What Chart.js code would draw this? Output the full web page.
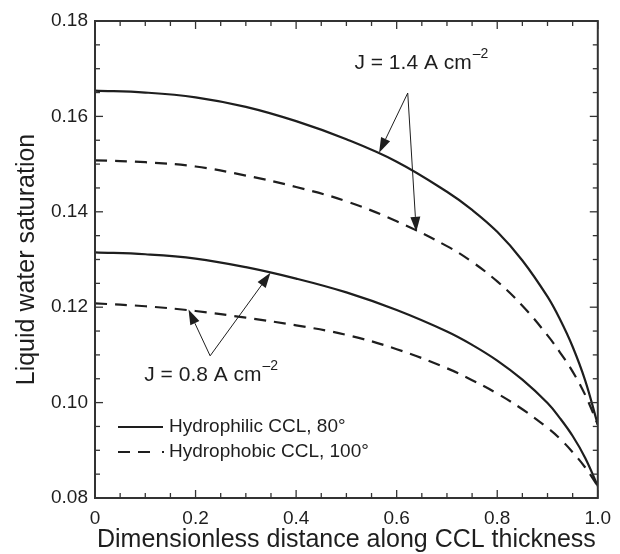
<!DOCTYPE html>
<html>
<head>
<meta charset="utf-8">
<script src="https://cdn.jsdelivr.net/npm/chart.js@4.4.0/dist/chart.umd.min.js"></script>
<style>
  body { margin: 0; background: #fff; }
  #wrap { width: 620px; height: 554px; }
</style>
</head>
<body>
<div id="wrap"><canvas id="myChart" width="620" height="554"></canvas></div>
<script>
// dimensionless position along the CCL
const xPos = [0, 0.1, 0.2, 0.3, 0.4, 0.5, 0.6, 0.7, 0.75, 0.8, 0.85, 0.9, 0.925, 0.95, 0.975, 1.0];

// liquid water saturation, J = 1.4 A cm-2
const philic14 = [0.1654, 0.1650, 0.1640, 0.1620, 0.1590, 0.1552, 0.1505, 0.1442, 0.1404, 0.1358, 0.1298, 0.1222, 0.1174, 0.1117, 0.1046, 0.0954];
const phobic14 = [0.1508, 0.1504, 0.1495, 0.1476, 0.1452, 0.1422, 0.1380, 0.1328, 0.1295, 0.1254, 0.1203, 0.1141, 0.1105, 0.1065, 0.1016, 0.0954];
// liquid water saturation, J = 0.8 A cm-2
const philic08 = [0.1315, 0.1311, 0.1302, 0.1284, 0.1260, 0.1231, 0.1194, 0.1149, 0.1121, 0.1088, 0.1048, 0.0999, 0.0967, 0.0930, 0.0884, 0.0825];
const phobic08 = [0.1208, 0.1202, 0.1192, 0.1178, 0.1162, 0.1142, 0.1112, 0.1072, 0.1047, 0.1019, 0.0986, 0.0947, 0.0924, 0.0896, 0.0864, 0.0825];

const xTickLabels = ["0", "0.2", "0.4", "0.6", "0.8", "1.0"];
const yTickLabels = ["0.08", "0.10", "0.12", "0.14", "0.16", "0.18"];
const seriesNames = ["Hydrophilic CCL, 80°", "Hydrophobic CCL, 100°"];

// current density callouts (data units)
const notes = [
  { text: "J = 1.4 A cm", sup: "–2", at: [0.516, 0.1712], apex: [0.622, 0.1649], tips: [[0.565, 0.1524], [0.639, 0.1358]] },
  { text: "J = 0.8 A cm", sup: "–2", at: [0.098, 0.1057], apex: [0.229, 0.1098], tips: [[0.186, 0.1195], [0.349, 0.1272]] },
];

const ink = "#1e1e1e";
const font = "'Liberation Sans', Arial, sans-serif";
const dash = [12, 8];

const pts = (ys) => xPos.map((x, i) => ({ x: x, y: ys[i] }));
const isMajor = (v, step) => Math.abs(v / step - Math.round(v / step)) < 1e-6;

function line(ctx, x1, y1, x2, y2) {
  ctx.beginPath();
  ctx.moveTo(x1, y1);
  ctx.lineTo(x2, y2);
  ctx.stroke();
}

function arrow(ctx, x1, y1, x2, y2) {
  const ang = Math.atan2(y2 - y1, x2 - x1);
  const len = 15, half = 5;
  const bx = x2 - len * Math.cos(ang), by = y2 - len * Math.sin(ang);
  line(ctx, x1, y1, bx, by);
  ctx.beginPath();
  ctx.moveTo(x2, y2);
  ctx.lineTo(bx + half * Math.sin(ang), by - half * Math.cos(ang));
  ctx.lineTo(bx - half * Math.sin(ang), by + half * Math.cos(ang));
  ctx.closePath();
  ctx.fill();
}

const frame = {
  id: "frame",
  afterDatasetsDraw(chart) {
    const { ctx, chartArea: a, scales: { x, y } } = chart;
    ctx.save();
    ctx.strokeStyle = "#333";
    ctx.fillStyle = ink;
    ctx.lineWidth = 2;
    ctx.strokeRect(a.left, a.top, a.right - a.left, a.bottom - a.top);

    // inward ticks on all four sides
    ctx.lineWidth = 1.3;
    x.ticks.forEach((t) => {
      const px = x.getPixelForValue(t.value);
      const len = isMajor(t.value, 0.2) ? 8 : 5;
      line(ctx, px, a.bottom, px, a.bottom - len);
      line(ctx, px, a.top, px, a.top + len);
    });
    y.ticks.forEach((t) => {
      const py = y.getPixelForValue(t.value);
      const len = isMajor(t.value, 0.02) ? 8 : 5;
      line(ctx, a.left, py, a.left + len, py);
      line(ctx, a.right, py, a.right - len, py);
    });

    // callouts
    ctx.strokeStyle = ink;
    ctx.lineWidth = 1;
    notes.forEach((n) => {
      const ax = x.getPixelForValue(n.apex[0]), ay = y.getPixelForValue(n.apex[1]);
      n.tips.forEach((t) => arrow(ctx, ax, ay, x.getPixelForValue(t[0]), y.getPixelForValue(t[1])));
      const tx = x.getPixelForValue(n.at[0]), ty = y.getPixelForValue(n.at[1]);
      ctx.font = "21px " + font;
      ctx.textBaseline = "middle";
      ctx.textAlign = "left";
      ctx.fillText(n.text, tx, ty);
      const w = ctx.measureText(n.text).width;
      ctx.font = "14px " + font;
      ctx.fillText(n.sup, tx + w + 1, ty - 9);
    });

    // legend inside the plot
    const lx = a.left + 23, ly = a.top + 406;
    ctx.lineWidth = 2.2;
    line(ctx, lx, ly, lx + 45, ly);
    ctx.setLineDash(dash);
    line(ctx, lx, ly + 25, lx + 40, ly + 25);
    ctx.setLineDash([]);
    ctx.fillRect(lx + 44, ly + 24, 2, 2);
    ctx.font = "19px " + font;
    ctx.fillText(seriesNames[0], lx + 51, ly);
    ctx.fillText(seriesNames[1], lx + 51, ly + 25);
    ctx.restore();
  },
};

const ctx = document.getElementById("myChart");

const myChart = new Chart(ctx, {
  type: "line",
  data: {
    datasets: [
      { label: seriesNames[0] + " 1.4", data: pts(philic14), borderDash: [] },
      { label: seriesNames[1] + " 1.4", data: pts(phobic14), borderDash: dash },
      { label: seriesNames[0] + " 0.8", data: pts(philic08), borderDash: [] },
      { label: seriesNames[1] + " 0.8", data: pts(phobic08), borderDash: dash },
    ],
  },
  options: {
    responsive: false,
    animation: false,
    layout: { padding: { top: 21, right: 15, left: 0, bottom: 0 } },
    elements: {
      line: { borderColor: ink, borderWidth: 2.2, tension: 0.4, fill: false },
      point: { radius: 0 },
    },
    plugins: { legend: { display: false }, tooltip: { enabled: false } },
    scales: {
      x: {
        type: "linear",
        min: 0,
        max: 1,
        grid: { display: false, drawTicks: false },
        border: { display: false },
        ticks: {
          stepSize: 0.05,
          autoSkip: false,
          maxRotation: 0,
          padding: 9,
          color: ink,
          font: { family: font, size: 19 },
          callback: (v) => (isMajor(v, 0.2) ? xTickLabels[Math.round(v / 0.2)] : ""),
        },
        title: {
          display: true,
          text: "Dimensionless distance along CCL thickness",
          color: ink,
          font: { family: font, size: 25, lineHeight: 1 },
          padding: { top: 0, bottom: 1 },
        },
        afterFit: (s) => { s.height = 56; },
      },
      y: {
        min: 0.08,
        max: 0.18,
        grid: { display: false, drawTicks: false },
        border: { display: false },
        ticks: {
          stepSize: 0.005,
          autoSkip: false,
          padding: 7,
          color: ink,
          font: { family: font, size: 19 },
          callback: (v) => (isMajor(v, 0.02) ? yTickLabels[Math.round((v - 0.08) / 0.02)] : ""),
        },
        title: {
          display: true,
          text: "Liquid water saturation",
          color: ink,
          font: { family: font, size: 25, lineHeight: 1 },
          padding: { top: 15, bottom: 0 },
        },
        afterFit: (s) => { s.width = 95; },
      },
    },
  },
  plugins: [frame],
});
</script>
</body>
</html>
